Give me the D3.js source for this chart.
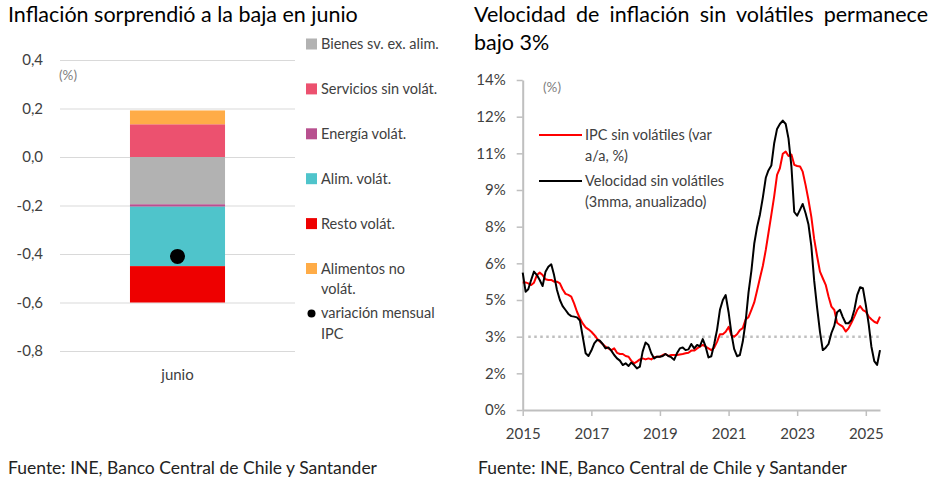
<!DOCTYPE html>
<html>
<head>
<meta charset="utf-8">
<script src="https://cdn.jsdelivr.net/npm/d3@7"></script>
<style>
  body { margin: 0; background: #fff; }
  svg { display: block; }
  text { font-family: Lato, "Open Sans", sans-serif; }
</style>
</head>
<body>
<script>
// ---- left chart data (junio, % m/m contribution)
const components = ["Bienes sv. ex. alim.", "Servicios sin volát.", "Energía volát.",
  "Alim. volát.", "Resto volát.", "Alimentos no volát."];
const componentColors = ["#b2b2b2", "#ec516f", "#b8508f", "#4fc4cb", "#ee0000", "#ffac47"];
const juneValues = [-0.195, 0.135, -0.01, -0.245, -0.15, 0.057];
const juneTotal = -0.41;
const leftTicks = [-0.8, -0.6, -0.4, -0.2, 0, 0.2, 0.4];

// ---- right chart data (monthly, Jan 2015 - Jun 2025)
const firstMonth = "2015-01-01";
const ipcSinVolatiles = [
  5.22, 5.22, 5.18, 5.11, 5.21, 5.52, 5.62, 5.52, 5.35, 5.32, 5.32, 5.25,
  5.25, 5.18, 4.94, 4.75, 4.71, 4.64, 4.36, 4.02, 3.75, 3.54, 3.38, 3.30,
  3.20, 3.07, 2.93, 2.80, 2.70, 2.59, 2.52, 2.45, 2.52, 2.34, 2.29, 2.29,
  2.21, 2.18, 2.02, 1.91, 1.98, 2.07, 2.11, 2.07, 2.11, 2.07, 2.16, 2.18,
  2.18, 2.25, 2.29, 2.21, 2.25, 2.25, 2.25, 2.27, 2.29, 2.32, 2.34, 2.43,
  2.43, 2.52, 2.59, 2.66, 2.59, 2.52, 2.45, 2.55, 2.80, 3.10, 3.10, 3.20,
  3.40, 3.05, 3.00, 3.10, 3.27, 3.35, 3.70, 3.80, 4.10, 4.40, 4.90, 5.40,
  5.90, 6.55, 7.23, 7.98, 8.73, 9.62, 9.89, 10.48, 10.57, 10.39, 10.45, 10.03,
  9.98, 9.96, 9.75, 9.20, 8.60, 7.90, 7.00, 6.30, 5.66, 5.39, 5.12, 4.64,
  4.23, 4.09, 3.57, 3.48, 3.41, 3.21, 3.34, 3.57, 3.82, 4.09, 4.25, 4.09,
  4.02, 3.82, 3.71, 3.61, 3.55, 3.82
];
const velocidadSinVolatiles = [
  5.62, 4.84, 4.94, 5.32, 5.66, 5.52, 5.32, 5.07, 5.66, 5.86, 5.96, 5.52,
  4.91, 4.50, 4.25, 4.09, 3.93, 3.84, 3.82, 3.79, 3.66, 3.00, 2.32, 2.21,
  2.43, 2.73, 2.86, 2.84, 2.70, 2.52, 2.56, 2.43, 2.25, 2.11, 2.02, 1.84,
  1.91, 1.80, 1.94, 1.84, 1.70, 1.77, 2.39, 2.76, 2.66, 2.32, 2.11, 2.18,
  2.18, 2.21, 2.29, 2.21, 2.16, 2.05, 2.32, 2.52, 2.56, 2.45, 2.48, 2.70,
  2.52, 2.66, 2.60, 2.90, 2.60, 2.15, 2.20, 2.70, 3.30, 4.10, 4.50, 4.70,
  4.00, 3.10, 2.50, 2.20, 2.25, 2.80, 3.60, 4.80, 5.70, 6.80, 7.50, 8.00,
  8.70, 9.50, 9.80, 10.00, 10.90, 11.50, 11.70, 11.84, 11.70, 11.10, 9.96, 8.10,
  7.95, 8.20, 8.43, 8.05, 7.60, 6.70, 5.30, 4.20, 3.20, 2.45, 2.55, 2.70,
  3.15, 3.45, 4.00, 4.10, 3.80, 3.55, 3.55, 3.68, 4.10, 4.70, 5.02, 4.98,
  4.30, 3.50, 2.60, 2.00, 1.84, 2.45
];
const metaLine = 3;
const rightTicks = [0, 1.5, 3, 4.5, 6, 7.5, 9, 10.5, 12, 13.5];
const yearTicks = [2015, 2017, 2019, 2021, 2023, 2025];
const seriesNames = [["IPC sin volátiles (var", "a/a, %)"], ["Velocidad sin volátiles", "(3mma, anualizado)"]];
const seriesColors = ["#ff0000", "#000000"];

const width = 936, height = 481;
const svg = d3.select("body").append("svg").attr("width", width).attr("height", height);

const locale = d3.formatLocale({ decimal: ",", thousands: ".", grouping: [3], currency: ["$", ""], minus: "-" });
const fmtLeft = locale.format(".1f");

// ajusta el tamaño de letra a un ancho dado
function fitWidth(sel, w) {
  const len = sel.node().getComputedTextLength();
  sel.attr("font-size", parseFloat(sel.attr("font-size")) * w / len);
}

// ---------- títulos y fuentes
const t1 = svg.append("text").attr("x", 8).attr("y", 22).attr("font-size", 20).attr("fill", "#000")
  .text("Inflación sorprendió a la baja en junio");
fitWidth(t1, 350);
const titleSize = t1.attr("font-size");

const t2 = svg.append("text").attr("x", 474).attr("y", 22).attr("font-size", titleSize).attr("fill", "#000")
  .text("Velocidad de inflación sin volátiles permanece");
const natural = t2.node().getComputedTextLength();
t2.attr("word-spacing", (454 - natural) / 5);
svg.append("text").attr("x", 474).attr("y", 50).attr("font-size", titleSize).attr("fill", "#000")
  .text("bajo 3%");

[8, 478].forEach(x => {
  const f = svg.append("text").attr("x", x).attr("y", 474).attr("font-size", 15).attr("fill", "#222")
    .text("Fuente: INE, Banco Central de Chile y Santander");
  fitWidth(f, 369);
});

// ---------- gráfico izquierdo
const yL = d3.scaleLinear().domain([-0.8, 0.4]).range([351, 60]);
const xL = d3.scaleBand().domain(["junio"]).range([60, 295]).padding(0.424);

svg.append("g").attr("transform", "translate(60,0)")
  .call(d3.axisLeft(yL).tickValues(leftTicks).tickSize(-235).tickPadding(17).tickFormat(fmtLeft))
  .call(g => g.select(".domain").remove())
  .call(g => g.selectAll(".tick line").attr("stroke", "#d9d9d9"))
  .call(g => g.selectAll(".tick text").attr("font-size", 15).attr("fill", "#404040").attr("font-family", null));

svg.append("text").attr("x", 59).attr("y", 80).attr("font-size", 13.5).attr("fill", "#7f7f7f").text("(%)");

const row = { cat: "junio" };
components.forEach((c, i) => { row[c] = juneValues[i]; });
const stacked = d3.stack().keys(components).offset(d3.stackOffsetDiverging)([row]);

svg.append("g").selectAll("rect").data(stacked).join("rect")
  .attr("x", xL("junio"))
  .attr("width", xL.bandwidth())
  .attr("y", s => yL(Math.max(s[0][0], s[0][1])))
  .attr("height", s => Math.abs(yL(s[0][0]) - yL(s[0][1])))
  .attr("fill", (s, i) => componentColors[i]);

svg.append("circle").attr("cx", xL("junio") + xL.bandwidth() / 2).attr("cy", yL(juneTotal))
  .attr("r", 7.5).attr("fill", "#000");

svg.append("text").attr("x", xL("junio") + xL.bandwidth() / 2).attr("y", 380)
  .attr("text-anchor", "middle").attr("font-size", 15).attr("fill", "#404040").text("junio");

// leyenda izquierda
const legendL = [...components.map((c, i) => ({ label: c, color: componentColors[i], type: "rect" })),
  { label: "variación mensual IPC", color: "#000", type: "dot" }];
const wrapL = { "Alimentos no volát.": ["Alimentos no", "volát."], "variación mensual IPC": ["variación mensual", "IPC"] };
legendL.forEach((d, i) => {
  const cy = 44 + i * 44.9;
  if (d.type === "rect") {
    svg.append("rect").attr("x", 306).attr("y", cy - 5.5).attr("width", 11).attr("height", 11).attr("fill", d.color);
  } else {
    svg.append("circle").attr("cx", 311.5).attr("cy", cy).attr("r", 4).attr("fill", d.color);
  }
  const lines = wrapL[d.label] || [d.label];
  lines.forEach((ln, j) => {
    svg.append("text").attr("x", 321).attr("y", cy + 5 + j * 20.5)
      .attr("font-size", 14.5).attr("fill", "#404040").text(ln);
  });
});

// ---------- gráfico derecho
const parse = d3.timeParse("%Y-%m-%d");
const start = parse(firstMonth);
const months = ipcSinVolatiles.map((v, i) => d3.timeMonth.offset(start, i));
const xR = d3.scaleTime().domain([start, months[months.length - 1]]).range([522.7, 880]);
const yR = d3.scaleLinear().domain([0, 13.5]).range([410, 80]);

svg.append("g").attr("transform", "translate(522.7,0)")
  .call(d3.axisLeft(yR).tickValues(rightTicks).tickSize(6).tickSizeOuter(0).tickPadding(11)
    .tickFormat(v => d3.format(".0f")(v) + "%"))
  .call(g => g.select(".domain").attr("stroke", "#bfbfbf").attr("stroke-width", 2))
  .call(g => g.selectAll(".tick line").attr("stroke", "#bfbfbf").attr("stroke-width", 1.5))
  .call(g => g.selectAll(".tick text").attr("font-size", 15).attr("fill", "#404040").attr("font-family", null));

svg.append("g").attr("transform", "translate(0,410)")
  .call(d3.axisBottom(xR).tickValues(yearTicks.map(y => new Date(y, 0, 1))).tickSize(6).tickSizeOuter(0)
    .tickPadding(12).tickFormat(d3.timeFormat("%Y")))
  .call(g => g.select(".domain").attr("stroke", "#bfbfbf").attr("stroke-width", 2))
  .call(g => g.selectAll(".tick line").attr("stroke", "#bfbfbf").attr("stroke-width", 1.5))
  .call(g => g.selectAll(".tick text").attr("font-size", 15).attr("fill", "#404040").attr("font-family", null));

svg.append("text").attr("x", 543).attr("y", 92).attr("font-size", 13.5).attr("fill", "#7f7f7f").text("(%)");

svg.append("line")
  .attr("x1", xR(months[2])).attr("x2", xR(months[months.length - 1]))
  .attr("y1", yR(metaLine)).attr("y2", yR(metaLine))
  .attr("stroke", "#bfbfbf").attr("stroke-width", 2.5).attr("stroke-dasharray", "2.5 3.5");

const line = d3.line().x((d, i) => xR(months[i])).y(d => yR(d));
[ipcSinVolatiles, velocidadSinVolatiles].forEach((s, k) => {
  svg.append("path").datum(s).attr("d", line).attr("fill", "none")
    .attr("stroke", seriesColors[k]).attr("stroke-width", 2).attr("stroke-linejoin", "round");
});

// leyenda derecha
seriesNames.forEach((lines, k) => {
  const cy = 135 + k * 46;
  svg.append("line").attr("x1", 539).attr("x2", 582).attr("y1", cy).attr("y2", cy)
    .attr("stroke", seriesColors[k]).attr("stroke-width", 2);
  lines.forEach((ln, j) => {
    svg.append("text").attr("x", 585).attr("y", cy + 5 + j * 20.5)
      .attr("font-size", 14.5).attr("fill", "#404040").text(ln);
  });
});
</script>
</body>
</html>
